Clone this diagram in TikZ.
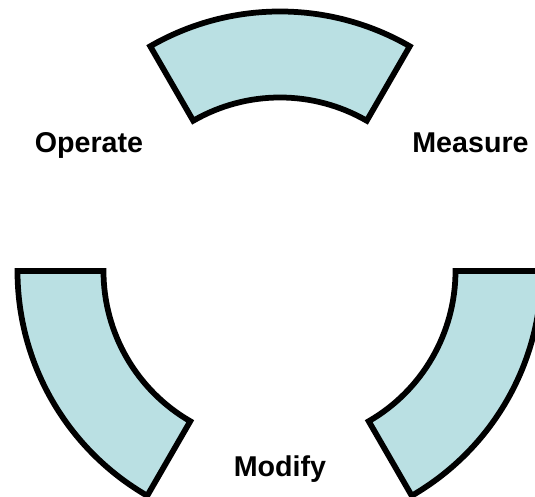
\documentclass[tikz,border=0pt]{standalone}
\usepackage{fontspec}
\setmainfont{Liberation Sans}
\definecolor{ringfill}{RGB}{186,224,227}
\tikzset{
    sector/.style={draw=black,fill=ringfill,line width=0.115cm,line join=miter},
    phase/.style={font=\bfseries\fontsize{16.3}{19}\selectfont,anchor=base}
}
\begin{document}
\begin{tikzpicture}
                \useasboundingbox (-5.6,-4.52) rectangle (5.1,5.42);
                \clip (-5.6,-4.52) rectangle (5.1,5.42);
                % three pieces of the ring, 60 degrees each
                \foreach \a/\dx in {60/0, 180/-0.06, 300/0.04} {
                    \draw[sector,xshift=\dx cm] (\a:3.47) arc[start angle=\a, end angle=\a+60, radius=3.47]
                        -- ({\a+60}:5.19) arc[start angle=\a+60, end angle=\a, radius=5.19] -- cycle;
                }
                \node[phase] (operate) at (-3.82,2.36) {Operate};
                \node[phase] (measure) at (3.81,2.36) {Measure};
                \node[phase] (modify) at (0,-4.12) {Modify};
            \end{tikzpicture}
\end{document}
